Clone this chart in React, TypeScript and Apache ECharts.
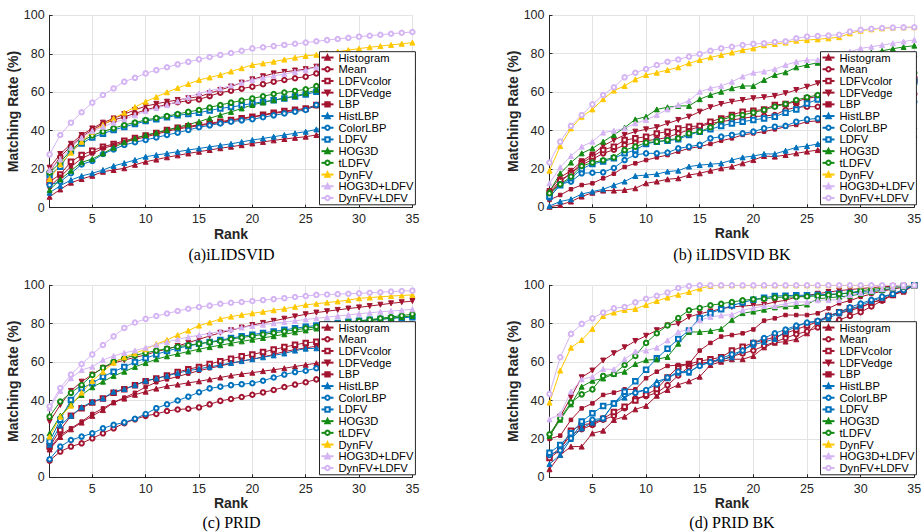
import React, { useEffect, useRef } from "react";
import * as echarts from "echarts";

// ---------- data ----------
const RANKS = [1,2,3,4,5,6,7,8,9,10,11,12,13,14,15,16,17,18,19,20,21,22,23,24,25,26,27,28,29,30,31,32,33,34,35];
const X_TICKS = [5, 10, 15, 20, 25, 30, 35];
const Y_TICKS_MAX = 100;
const METHODS = ["Histogram","Mean","LDFVcolor","LDFVedge","LBP","HistLBP","ColorLBP","LDFV","HOG3D","tLDFV","DynFV","HOG3D+LDFV","DynFV+LDFV"];
const CAPTIONS = ["(a)iLIDSVID", "(b) iLIDSVID BK", "(c) PRID", "(d) PRID BK"];

// (a) iLIDSVID
const a_Histogram = [5.7,9.5,13,14.9,16.6,18.7,19.6,20.5,22.3,23.9,25,26.2,27.2,28.2,29.1,30,30.9,31.7,32.5,33.4,34.2,35,35.7,36.3,36.9,37.8,38.5,39.2,39.8,40.4,41,41.5,42,42.5,43];
const a_Mean = [18.5,26.5,32,36.9,40.4,43.5,45.5,47.2,49,50.8,52.3,53.7,54.8,55.6,56.3,58,59.8,60.8,61.9,62.9,64.2,65.5,66.4,67.3,68.1,69.8,70.8,71.7,72.5,73.3,74,74.6,75.1,75.5,75.9];
const a_LDFVcolor = [13.5,17.3,23.9,27.4,29.6,31.7,33.1,34.8,36.2,37.5,38.8,40.4,41.5,42.3,43,43.9,44.7,45.6,46.5,47.3,48.3,49.4,50.2,50.9,51.6,53.4,54.4,55.3,56.2,57,57.8,58.5,59.2,59.8,60.3];
const a_LDFVedge = [20.8,27.9,33.2,37.8,41.2,44.2,46.4,48.6,50.8,52.8,54,55.1,56,56.9,57.7,59.5,61.2,63,65,66.7,68.3,69.8,70.6,71.3,72,73.3,74.3,75.2,76,76.7,77.3,77.9,78.4,78.8,79.2];
const a_LBP = [10.9,16.1,21.3,25.6,28.2,30.8,32.5,34,35.5,36.8,38.2,39.7,40.9,41.8,42.6,43.5,44.3,45.2,46.1,47,48,49,49.8,50.5,51.2,52.8,53.8,54.8,55.7,56.6,57.4,58.2,58.9,59.5,60];
const a_HistLBP = [7.8,11.4,14.4,16.5,17.9,19.6,21.7,23.2,24.8,26.5,27.4,28.2,29.1,30,30.8,31.6,32.4,33.2,34.2,35.2,36,36.9,37.8,38.7,39.5,40.7,41.7,42.7,43.6,44.5,45.4,46.2,46.9,47.6,48.2];
const a_ColorLBP = [11.8,13.5,17.9,22.5,24.3,27.9,30.3,32.6,34,35.2,36.5,37.8,39,40.4,41.8,42.8,43.8,44.7,45.4,46,47,48,49,49.9,50.8,53.4,54.6,55.8,56.9,58,59,60,60.9,61.7,62.4];
const a_LDFV = [17,21.3,29.5,33.4,36.5,38.5,40.4,42,43.5,45,46,47,48,48.7,49.4,50.5,51.6,52.3,53.2,54.2,55,55.9,56.8,57.8,58.8,60.3,61.2,62,62.8,63.6,64.4,65.1,65.8,66.4,66.9];
const a_HOG3D = [9.2,14.7,19.2,23.6,25.3,28.2,31.2,34,36,37.8,39,40.4,41.8,43.3,44.7,46.5,48.2,49.8,51.6,53.4,54.7,55.9,57,58,59.5,61.2,62.5,63.8,65,66.2,67.4,68.6,69.8,70.9,72];
const a_tLDFV = [18.2,23.5,30,34.5,37.5,39.6,41.3,43,44.3,45.6,46.6,47.6,48.7,49.8,50.8,52.1,53.4,54.6,55.7,56.8,57.9,59.1,59.9,60.7,61.5,63.2,64.3,65.4,66.5,67.5,68.5,69.5,70.4,71.2,72];
const a_DynFV = [14.9,22.5,28.6,34.3,39.5,43,46.4,49.4,52.3,55.1,57.6,60,62.2,64.3,66.4,67.7,69,70.8,72.5,74.2,75,75.9,77,78,78.9,79.5,80.3,81.1,81.9,82.7,83.4,84,84.6,85.2,85.8];
const a_HOG3DLDFV = [19.6,25.1,31.2,36.4,39.9,42.1,44.2,46,48,50.2,51.8,53.3,55.3,57.4,59.4,60.8,62,63.5,65,66.4,67.5,68.5,69.5,70.6,71.6,73,74,74.9,75.8,76.6,77.4,78.1,78.7,79.2,79.7];
const a_DynFVLDFV = [27.7,37.8,44.2,49.6,54.6,58.6,62,65.5,67.5,69.8,71.5,73,74.5,75.8,77.1,78.3,79.4,80.4,81.6,82.8,83.4,84,84.6,85.2,85.8,86.5,87.1,87.7,88.3,88.9,89.4,89.9,90.4,90.9,91.3];

// (b) iLIDSVID BK
const b_Histogram = [0.3,1.2,3,5.6,7.6,8.7,8.7,9,9.9,12.5,13.4,14.6,15.1,16.8,17.7,19.1,20.3,21.2,22.9,24.6,26.7,26.4,27.2,28.1,29,29.8,30.8,31.7,32.6,33.5,34.4,35.3,36.2,37,37.7];
const b_Mean = [6.5,13.4,17.7,22,25,28.1,30,32.4,33.7,34.7,35.4,36.4,38.5,40.3,42,43.7,44.6,45.5,46.3,47.2,47.6,48.1,50.7,52.1,52.4,52.4,53.3,54.2,55,55.8,56.5,57.2,57.9,58.5,59];
const b_LDFVcolor = [7.6,14,17.7,23,26.4,29.9,31.6,35,35.9,36.8,38.5,39.4,41.1,42,42.4,44.6,46.3,48.1,49.8,50.3,51,53.3,53.8,55,56.8,57.6,59,60.5,62,63,64,64.8,65.5,66,66.5];
const b_LDFVedge = [8.5,15.6,19,24,27.5,32,35,37.7,39.4,40.6,41.7,43.7,45.5,47.2,49.8,52.1,53.8,55,55.9,56.8,57.3,58,59.4,61.1,62.8,64.6,66,67.5,69,70.5,72,73.5,75,76.2,77.3];
const b_LBP = [3.8,6.4,9.4,11.6,12.5,15.1,17.5,21,22.9,24.6,26,27.2,29,30.7,31.6,33,34.7,35.9,37.7,38.5,39.4,40.6,42,42.9,44.6,45,46.2,47.4,48.6,49.8,51,52,53,54,55];
const b_HistLBP = [0.7,3,4.2,6.9,8.2,9.4,11.5,13.4,16.3,16.8,17.3,18.6,19.1,21.2,22,22.4,22.9,24.6,26,26.7,27.8,27.8,29.5,31.2,31.9,33,34.3,35.5,36.6,37.7,38.7,39.7,40.7,41.6,42.4];
const b_ColorLBP = [5,12,13.4,17.7,18,18.2,20.5,24.6,27.3,28.1,28.1,28.5,30.7,31.6,32.5,35.9,36.8,37.7,38.5,39.4,41.1,42,42.4,44.6,45.8,46.3,47.3,48.3,49.3,50.3,51.3,52.3,53.3,54.2,55];
const b_LDFV = [5.6,11.5,15.1,20,22.6,23.8,25.5,28.1,29.8,33,34.2,34.7,35.4,37.7,39.4,40.6,42.4,43.7,44.6,45.5,46.3,47.2,49.3,51,54.1,56.2,57.8,59.2,60.5,61.6,62.6,63.4,64.2,64.9,65.5];
const b_HOG3D = [8.2,17.7,23.3,28.1,30.7,34.2,37.7,41.5,45.8,47.2,51,52.1,52.8,52.8,56.3,58.5,60.2,62,63.2,63.2,66.3,68.9,70.3,72.9,74.1,75.3,76.5,77.6,78.7,79.7,80.6,81.5,82.6,83.5,84.2];
const b_tLDFV = [7.3,12,16,21.5,23.3,24.5,26,29.8,31.6,33.7,34.2,35,35.9,38.5,39.4,41.7,45.5,47.2,48.1,49.3,50.7,52.4,53.8,55.9,57.3,58.5,60,61.5,62.8,64.2,65.5,66.8,68,69.1,70.1];
const b_DynFV = [19.1,31.9,41.1,47.2,51,56.3,60.8,63.2,66.6,68.9,70.1,71.5,72.9,75,76.7,78.1,79.3,80.6,81.9,82.8,84.4,85.1,85.8,86.8,87.1,87.5,88,88.6,90.6,92,92.7,93.2,93.6,93.7,93.8];
const b_HOG3DLDFV = [12.5,20.8,26.7,31.6,34.2,38.9,39.9,41.1,43.7,45.5,48.1,51,53.3,55.5,60.2,62,63.2,65.4,68.1,70.1,70.7,71.9,74.1,75.8,76.7,76.7,78,79.4,81,82.8,83.6,84.5,85.4,86.3,87.2];
const b_DynFVLDFV = [23.3,34.2,42.4,48.1,53.6,58.5,62.5,67.7,70.1,72,74.1,75.8,77,78.5,79.8,81.5,82.8,83.6,84.5,85.1,85.4,86.1,86.4,88,88.9,89.2,89.5,89.9,91.5,92.4,93,93.4,93.6,93.7,93.8];

// (c) PRID
const c_Histogram = [14.5,21,25,28.5,32,35,39,41,43,44.6,46.2,47.5,48.3,49.2,50,51,52,53,53.8,54.5,55.3,56,56.8,57.7,58.6,59.4,60.3,61.2,62,62.8,63.6,64.4,65.2,66,66.8];
const c_Mean = [8.7,13.4,16,17.7,20.3,22.9,25.5,28.2,30.2,32,33,34.5,35.3,35.7,36.4,38,39.8,40.8,41.8,43,44.2,45.5,47,48.3,49.5,51,52,53,54,55,56,57,58,59,59.9];
const c_LDFVcolor = [16,24.7,32,36,39,41.1,44,45.8,48,50,51.5,53,54.8,56.3,57.5,59,60.5,61.8,63,64,65.2,66.5,67.8,69,70,70.6,71.5,72.5,73.5,74.5,75.5,76.5,77.5,78.4,79.3];
const c_LDFVedge = [29,37.7,45,49.8,53.5,57,59.5,61,62.5,63.7,65.5,66.8,68.4,70.1,71.9,73.6,75.3,76.6,78,79.3,80.4,81.5,82.6,83.8,84.9,85.8,86.5,87.2,87.9,88.5,89.2,89.9,90.6,91.2,91.8];
const c_LBP = [15.1,22,25.5,29,33,35.9,39,41.5,44,47,49.5,51,52.5,54,55.5,56.8,58,59.3,60.5,61.5,62.7,64,65.5,66.5,67.4,68.3,69.2,70,70.7,71.3,71.9,72.4,72.8,73.1,73.3];
const c_HistLBP = [17,27,32,36.5,39.4,41.1,44.6,46,48,50.3,51.5,52.8,54.3,55.5,56.5,57.5,58.5,59.5,60.5,61.5,62.5,63.5,64.5,66,67,67.2,68,68.8,69.6,70.4,71.1,71.8,72.4,72.9,73.3];
const c_ColorLBP = [9.4,16,19.4,21.2,22.9,25.5,27.3,28.6,30.5,33,36,38,40,42,44.3,46.3,47.2,48,48.5,49,50.3,52,53.5,54.8,55.5,56.8,57.5,58.3,59,59.8,60.7,61.6,62.6,63.6,64.6];
const c_LDFV = [18.6,30,40.3,46.4,49,52.4,55,57.5,60,62,64,65.8,67.2,68.4,69.5,70.5,71.5,72.5,73.4,74.3,75.2,76,76.8,77.6,78.4,79.1,79.8,80.4,81,81.5,82,82.4,82.8,83.1,83.4];
const c_HOG3D = [22.9,32,38,42.9,46.9,49.8,52.8,55,57.5,59.5,61.5,63,64.3,65.5,66.7,67.8,68.8,69.8,70.8,71.7,72.6,73.5,74.5,75.5,76.5,77.5,78.3,79.1,79.9,80.7,81.5,82.2,82.9,83.5,84];
const c_tLDFV = [31.6,39.5,44,48.1,53.3,57,60.3,62,63.5,64.8,66,67,68,68.8,69.6,70.3,71,72,72.8,73.6,74.4,75.2,76,76.8,77.6,78.4,79.2,80,80.7,81.4,82.1,82.8,83.5,84.2,85];
const c_DynFV = [21.2,31.6,37.3,44.1,50.2,55,59.7,62.5,64.6,66.7,69.4,71.5,74.1,76.4,79,80.6,82.5,83.7,84.6,85.4,86.2,87,87.8,88.8,89.8,90.4,91,91.6,92.3,93.2,93.6,94,94.4,94.7,95];
const c_HOG3DLDFV = [36,45,51.6,55.9,57.6,61.1,63.2,64.8,66,67.5,69,70.5,71.8,73,74,75,76,77,78,78.8,79.5,80.2,80.9,81.5,82.2,82.8,83.4,84,84.6,85.2,85.7,86.2,86.6,87,87.5];
const c_DynFVLDFV = [37,46.5,53.5,59,64,68.9,73.4,77.8,80.6,82.5,84,85.3,86.6,87.8,88.7,89.4,90.4,90.9,91.3,91.8,92.3,92.8,93.3,93.9,94.4,95,95.2,95.4,95.6,95.8,96.1,96.4,96.7,97,97.2];

// (d) PRID BK
const d_Histogram = [4.2,11.6,16,16,22.9,24.3,29.9,31.6,35.4,37.2,42.5,45.5,48.2,50,52.4,58.5,60.2,61.5,61.5,63.2,67.7,70.1,70.7,71.9,75,80.6,84.5,85.4,86.8,88.5,91,92.4,95,96.7,100];
const d_Mean = [11.1,15,22,25,27.3,30,32,36,41.1,42.3,44,48,53,57.5,59.5,60,61,63,64.5,66,68.5,70.5,72.5,74.5,76,78,80,82,84,86,89,92,95,97.5,100];
const d_LDFVcolor = [10,14.2,24.3,27.3,28.1,30.5,34,36.8,40,43,46,52,57.5,59,60.5,61.5,62.5,66,68,70,71.5,73,75,77,79,81,84,86,88,88.5,91,92.5,95,97.5,100];
const d_LDFVedge = [21,31.6,41.7,52.1,55.6,60.8,64.6,67.7,71,73.7,76.6,79.1,80,83.5,85.2,86.4,87.8,88.7,89.2,89.6,90,91.3,92.2,93.9,94.8,95.6,96.5,97.2,97.8,98.3,98.8,99.2,99.5,99.8,100];
const d_LBP = [20,21.7,29.9,35.9,38.5,42.9,44.1,45.8,45.8,51.6,55,58,58.5,59,66,70,73.3,74.1,75,77,81.6,82.8,84.5,84.5,84.5,85.4,88,90.6,92,94,95.5,97,98,99,100];
const d_HistLBP = [6.9,11.6,20,25.5,28.5,30.7,38.5,41.5,44.6,45.5,50,51.6,54.5,54.5,58.5,60,61.5,62.5,66.3,69,70.5,72,75.9,78.5,80.6,81,83,85.4,87.5,89.5,91.8,93.5,95.5,97.8,100];
const d_ColorLBP = [11.6,14,20.3,28,30,30.7,38.5,43,44,45.5,48.5,52,55,55,58,60,62,64,66,70,72.5,75,77,79,80.6,81.5,84,86,88.5,90.5,92.4,94.1,95.5,97.5,100];
const d_LDFV = [12.8,16.8,22.9,29,33.3,37.2,38.5,44.6,50,56,62,67,72,76.5,83,85.5,87.5,89.5,91,92.5,93.5,94.4,94.6,94.8,94.8,95,95.3,95.6,96,96.5,97,97.8,98.5,99.3,100];
const d_HOG3D = [21.5,30,38,47.2,50.3,51.5,53.8,55,59,61,61.4,62.7,69.6,75.7,75.7,76.2,77.3,82,85.5,86.3,87.3,88.5,89,89.2,90,93,93.5,94,94.5,95.5,96.5,97.5,98.5,99.3,100];
const d_tLDFV = [22.4,30.7,38.9,43.2,45.8,52.8,53.8,58.5,63.2,70,75,79.1,83,87,88.2,89.6,90.4,91.3,92.2,92.7,93,93.6,93.9,93.9,94.2,94.5,95,95.5,96,97.2,97.8,98.4,99,99.5,100];
const d_DynFV = [38.9,55.6,67.5,71.5,77.3,84,85.8,87.2,87.7,89.8,91.8,93.6,95.1,96.5,98.3,99.7,100,100,100,100,100,100,100,100,100,100,100,100,100,100,100,100,100,100,100];
const d_HOG3DLDFV = [30.2,33,44.6,51,52.4,56.4,56.2,61.5,65.5,66,67.5,71.3,75.7,77,81.8,83.5,84.3,84.7,87,88.2,89.2,89.2,90.4,91.3,91.3,92.2,92.4,92.4,95,96,97,98,98.8,99.5,100];
const d_DynFVLDFV = [43.4,62.5,74.7,79.9,82.8,85.8,88,88.7,91.1,93,94.5,96.2,98.6,99.6,100,100,100,100,100,100,100,100,100,100,100,100,100,100,100,100,100,100,100,100,100];

const PANELS = [
  [a_Histogram,a_Mean,a_LDFVcolor,a_LDFVedge,a_LBP,a_HistLBP,a_ColorLBP,a_LDFV,a_HOG3D,a_tLDFV,a_DynFV,a_HOG3DLDFV,a_DynFVLDFV],
  [b_Histogram,b_Mean,b_LDFVcolor,b_LDFVedge,b_LBP,b_HistLBP,b_ColorLBP,b_LDFV,b_HOG3D,b_tLDFV,b_DynFV,b_HOG3DLDFV,b_DynFVLDFV],
  [c_Histogram,c_Mean,c_LDFVcolor,c_LDFVedge,c_LBP,c_HistLBP,c_ColorLBP,c_LDFV,c_HOG3D,c_tLDFV,c_DynFV,c_HOG3DLDFV,c_DynFVLDFV],
  [d_Histogram,d_Mean,d_LDFVcolor,d_LDFVedge,d_LBP,d_HistLBP,d_ColorLBP,d_LDFV,d_HOG3D,d_tLDFV,d_DynFV,d_HOG3DLDFV,d_DynFVLDFV],
];

// ---------- styling ----------
const RED = "#A2142F";
const BLUE = "#0072BD";
const GREEN = "#138A13";
const YELLOW = "#FFC800";
const LAV = "#D5B4F4";
const FONT = "'Liberation Sans', Arial, Helvetica, sans-serif";
const AXIS_COLOR = "#262626";

const STYLE = [
  { color: RED, symbol: "triangle", size: 5 },
  { color: RED, symbol: "emptyCircle", size: 4.5 },
  { color: RED, symbol: "emptyRect", size: 4.5 },
  { color: RED, symbol: "triangle", size: 5, rotate: 180 },
  { color: RED, symbol: "rect", size: 3.5 },
  { color: BLUE, symbol: "triangle", size: 5 },
  { color: BLUE, symbol: "emptyCircle", size: 4.5 },
  { color: BLUE, symbol: "emptyRect", size: 4.5 },
  { color: GREEN, symbol: "triangle", size: 5 },
  { color: GREEN, symbol: "emptyCircle", size: 4.5 },
  { color: YELLOW, symbol: "triangle", size: 5 },
  { color: LAV, symbol: "triangle", size: 5 },
  { color: LAV, symbol: "emptyCircle", size: 4.5 },
];

const GRIDS = [
  { left: 49.6, top: 15.3, width: 362.8, height: 192.4 },
  { left: 549.5, top: 15.3, width: 364.8, height: 192.0 },
  { left: 49.6, top: 285.3, width: 362.8, height: 192.0 },
  { left: 549.5, top: 285.3, width: 364.8, height: 192.0 },
];
const LEGENDS = [
  { left: 319.5, top: 51.7 },
  { left: 820.5, top: 51.7 },
  { left: 319.5, top: 321.7 },
  { left: 820.5, top: 321.7 },
];
const CAPTION_POS = [
  { x: 231.5, y: 254 },
  { x: 732, y: 254 },
  { x: 231.5, y: 522 },
  { x: 732, y: 522 },
];

function buildOption() {
  const grid = GRIDS.map((g) => ({ ...g, containLabel: false, outerBoundsMode: "none" }));
  const xAxis = GRIDS.map((_, i) => ({
    gridIndex: i,
    type: "value",
    min: 1,
    max: 35,
    name: "Rank",
    nameLocation: "middle",
    nameGap: 16,
    nameTextStyle: { fontWeight: "bold", fontSize: 14, color: AXIS_COLOR, fontFamily: FONT },
    axisLine: { show: true, onZero: false, lineStyle: { color: AXIS_COLOR, width: 1 } },
    axisTick: { show: true, inside: true, length: 3, customValues: X_TICKS, lineStyle: { color: AXIS_COLOR } },
    axisLabel: { show: true, customValues: X_TICKS, color: AXIS_COLOR, fontSize: 12.5, fontFamily: FONT, margin: 5 },
    splitLine: { show: true, lineStyle: { color: "#e3e3e3", width: 1 } },
  }));
  const yAxis = GRIDS.map((_, i) => ({
    gridIndex: i,
    type: "value",
    min: 0,
    max: Y_TICKS_MAX,
    interval: 20,
    name: "Matching Rate (%)",
    nameLocation: "middle",
    nameGap: 27,
    nameTextStyle: { fontWeight: "bold", fontSize: 14, color: AXIS_COLOR, fontFamily: FONT },
    axisLine: { show: true, lineStyle: { color: AXIS_COLOR, width: 1 } },
    axisTick: { show: true, inside: true, length: 3, lineStyle: { color: AXIS_COLOR } },
    axisLabel: { color: AXIS_COLOR, fontSize: 12.5, fontFamily: FONT, margin: 5 },
    splitLine: { show: true, lineStyle: { color: "#e3e3e3", width: 1 } },
  }));
  const series: any[] = [];
  PANELS.forEach((rows, gi) => {
    rows.forEach((vals, si) => {
      const st = STYLE[si];
      series.push({
        type: "line",
        name: METHODS[si],
        xAxisIndex: gi,
        yAxisIndex: gi,
        data: vals.map((v, k) => [RANKS[k], v]),
        symbol: st.symbol,
        symbolSize: st.size,
        symbolRotate: st.rotate || 0,
        showSymbol: true,
        showAllSymbol: true,
        lineStyle: { color: st.color, width: 1 },
        itemStyle: { color: st.color, borderColor: st.color, borderWidth: 1 },
        emphasis: { disabled: true },
        silent: true,
      });
    });
  });
  const legend = LEGENDS.map((l) => ({
    orient: "vertical",
    left: l.left,
    top: l.top,
    data: METHODS,
    backgroundColor: "#ffffff",
    borderColor: AXIS_COLOR,
    borderWidth: 1,
    borderRadius: 0,
    padding: [0, 2, 1, 1],
    itemGap: 0,
    itemWidth: 12,
    itemHeight: 5.5,
    selectedMode: false,
    textStyle: { fontSize: 11.2, lineHeight: 11.7, color: "#000", fontFamily: FONT },
    z: 10,
  }));
  const graphic = CAPTIONS.map((t, i) => ({
    type: "text",
    x: CAPTION_POS[i].x,
    y: CAPTION_POS[i].y,
    style: {
      text: t,
      fill: "#000",
      font: "16px 'Liberation Serif', 'Times New Roman', serif",
      textAlign: "center",
      textVerticalAlign: "middle",
    },
  }));
  return { animation: false, grid, xAxis, yAxis, series, legend, graphic, backgroundColor: "#ffffff" };
}

export default function App() {
  const ref = useRef<HTMLDivElement>(null);
  useEffect(() => {
    if (!ref.current) return;
    const chart = echarts.init(ref.current, undefined, { renderer: "svg" });
    chart.setOption(buildOption() as any);
    return () => chart.dispose();
  }, []);
  return (
    <div
      ref={ref}
      style={{ position: "fixed", left: 0, top: 0, width: 922, height: 532, background: "#fff" }}
    />
  );
}
